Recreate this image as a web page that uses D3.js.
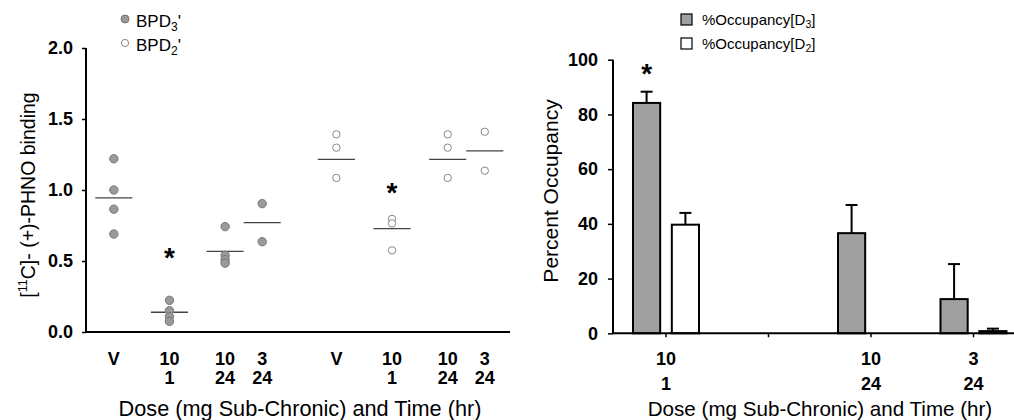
<!DOCTYPE html>
<html>
<head>
<meta charset="utf-8">
<script src="https://cdn.jsdelivr.net/npm/d3@7"></script>
<style>
  body { margin: 0; background: #fff; }
  svg { display: block; font-family: "Liberation Sans", Arial, sans-serif; }
</style>
</head>
<body>
<svg id="chart" width="1014" height="420"></svg>
<script>
// ---------- Left panel data ----------
const leftDose = ["V", "10", "10", "3", "V", "10", "10", "3"];
const leftTime = ["", "1", "24", "24", "", "1", "24", "24"];
const leftPositions = [1, 2.5, 4, 5, 7, 8.5, 10, 11];
const leftYTicks = [0, 0.5, 1.0, 1.5, 2.0];

// BPD3' values (groups 1-4), BPD2' values (groups 5-8)
const bpd3Values = [
  [1.22, 1.0, 0.865, 0.69],
  [0.223, 0.15, 0.108, 0.075],
  [0.742, 0.54, 0.51, 0.485],
  [0.904, 0.636]
];
const bpd3Means = [0.944, 0.139, 0.568, 0.77];
const bpd2Values = [
  [1.392, 1.298, 1.085],
  [0.796, 0.765, 0.575],
  [1.392, 1.298, 1.085],
  [1.41, 1.136]
];
const bpd2Means = [1.216, 0.728, 1.216, 1.275];
const leftStars = [{ pos: 2.5, value: 0.556 }, { pos: 8.5, value: 1.014 }];

// ---------- Right panel data ----------
const rightCats = ["10/1", "gap", "10/24", "3/24"];
const rightDose = ["10", "", "10", "3"];
const rightTime = ["1", "", "24", "24"];
const occD3 = [84.2, null, 36.6, 12.5];
const occD3Err = [4.1, null, 10.3, 12.8];
const occD2 = [39.7, null, 0, 0.8];
const occD2Err = [4.3, null, 0, 0.9];
const rightYTicks = [0, 20, 40, 60, 80, 100];

const svg = d3.select("#chart");

// ================= LEFT PANEL =================
const L = { x0: 86, x1: 510, y0: 332, y1: 48 };
const lx = d3.scaleLinear().domain([0.25, 11.68]).range([L.x0, L.x1]);
const ly = d3.scaleLinear().domain([0, 2]).range([L.y0, L.y1]);

const lg = svg.append("g");
const lyAxis = lg.append("g").attr("transform", `translate(${L.x0},0)`)
  .call(d3.axisLeft(ly).tickValues(leftYTicks).tickFormat(d3.format(".1f")).tickSize(4).tickPadding(9));
lyAxis.select(".domain").attr("stroke", "#000").attr("stroke-width", 2).attr("d", `M0,${L.y0}V${L.y1}`);
lyAxis.selectAll(".tick line").attr("stroke", "#000").attr("stroke-width", 1.5);
lyAxis.selectAll(".tick text").attr("font-size", 18).attr("font-weight", "bold").attr("fill", "#000")
  .attr("font-family", "Liberation Sans, Arial, sans-serif");
lg.append("line").attr("x1", L.x0 - 1).attr("x2", L.x1).attr("y1", L.y0).attr("y2", L.y0)
  .attr("stroke", "#000").attr("stroke-width", 2);

leftPositions.forEach((p, i) => {
  lg.append("text").attr("x", lx(p)).attr("y", 365).attr("text-anchor", "middle")
    .attr("font-size", 18).attr("font-weight", "bold").text(leftDose[i]);
  if (leftTime[i]) lg.append("text").attr("x", lx(p)).attr("y", 384).attr("text-anchor", "middle")
    .attr("font-size", 18).attr("font-weight", "bold").text(leftTime[i]);
});

lg.append("text").attr("x", 300).attr("y", 416).attr("text-anchor", "middle")
  .attr("font-size", 21.7).text("Dose (mg Sub-Chronic) and Time (hr)");

const lyt = lg.append("text").attr("transform", "translate(35,195) rotate(-90)")
  .attr("text-anchor", "middle").attr("font-size", 19.5);
lyt.append("tspan").text("[");
lyt.append("tspan").attr("font-size", 12.5).attr("dy", -8).text("11");
lyt.append("tspan").attr("dy", 8).text("C]- (+)-PHNO binding");

const meanHalf = 0.5;
function drawGroup(values, mean, pos, filled) {
  lg.append("line").attr("x1", lx(pos - meanHalf)).attr("x2", lx(pos + meanHalf))
    .attr("y1", ly(mean)).attr("y2", ly(mean)).attr("stroke", "#444").attr("stroke-width", 1.3);
  lg.selectAll(null).data(values).enter().append("circle")
    .attr("cx", lx(pos)).attr("cy", d => ly(d))
    .attr("r", filled ? 4.2 : 3.7)
    .attr("fill", filled ? "#9a9a9a" : "#fff")
    .attr("stroke", filled ? "#777" : "#888").attr("stroke-width", 1);
}
bpd3Values.forEach((v, i) => drawGroup(v, bpd3Means[i], leftPositions[i], true));
bpd2Values.forEach((v, i) => drawGroup(v, bpd2Means[i], leftPositions[i + 4], false));

leftStars.forEach(s => {
  lg.append("text").attr("x", lx(s.pos)).attr("y", ly(s.value) + 14).attr("text-anchor", "middle")
    .attr("font-size", 28).attr("font-weight", "bold").text("*");
});

lg.append("circle").attr("cx", 125).attr("cy", 19).attr("r", 4).attr("fill", "#9a9a9a").attr("stroke", "#777");
lg.append("circle").attr("cx", 125).attr("cy", 43).attr("r", 3.6).attr("fill", "#fff").attr("stroke", "#888");
function bpdLegend(y, sub) {
  const t = lg.append("text").attr("x", 136).attr("y", y).attr("font-size", 17);
  t.append("tspan").text("BPD");
  t.append("tspan").attr("font-size", 12).attr("dy", 4).text(sub);
  t.append("tspan").attr("dy", -4).text("'");
}
bpdLegend(27, "3");
bpdLegend(51, "2");

// ================= RIGHT PANEL =================
const R = { x0: 613, x1: 1014, y0: 333.3, y1: 59.7 };
const rx = d3.scalePoint().domain(rightCats).range([666, 973.5]);
const ry = d3.scaleLinear().domain([0, 100]).range([R.y0, R.y1]);
const inner = d3.scaleBand().domain(["D3", "D2"]).range([-33, 33]).paddingInner(0.3);

const rg = svg.append("g");
const ryAxis = rg.append("g").attr("transform", `translate(${R.x0},0)`)
  .call(d3.axisLeft(ry).tickValues(rightYTicks).tickSize(5).tickPadding(10));
ryAxis.select(".domain").attr("stroke", "#000").attr("stroke-width", 2).attr("d", `M0,${R.y0}V${R.y1}`);
ryAxis.selectAll(".tick line").attr("stroke", "#000").attr("stroke-width", 1.5);
ryAxis.selectAll(".tick text").attr("font-size", 18).attr("font-weight", "bold").attr("fill", "#000")
  .attr("font-family", "Liberation Sans, Arial, sans-serif");

const bars = [];
rightCats.forEach((c, i) => {
  if (occD3[i] !== null && occD3[i] > 0) bars.push({ c, k: "D3", v: occD3[i], e: occD3Err[i] });
  if (occD2[i] !== null && occD2[i] > 0) bars.push({ c, k: "D2", v: occD2[i], e: occD2Err[i] });
});
bars.forEach(b => {
  const cx = rx(b.c) + inner(b.k) + inner.bandwidth() / 2;
  rg.append("line").attr("x1", cx).attr("x2", cx).attr("y1", ry(b.v)).attr("y2", ry(b.v + b.e))
    .attr("stroke", "#000").attr("stroke-width", 2);
  rg.append("line").attr("x1", cx - 6).attr("x2", cx + 6).attr("y1", ry(b.v + b.e)).attr("y2", ry(b.v + b.e))
    .attr("stroke", "#000").attr("stroke-width", 2);
});
rg.selectAll("rect.bar").data(bars).enter().append("rect").attr("class", "bar")
  .attr("x", d => rx(d.c) + inner(d.k))
  .attr("width", inner.bandwidth())
  .attr("y", d => ry(d.v))
  .attr("height", d => ry(0) - ry(d.v))
  .attr("fill", d => d.k === "D3" ? "#a0a0a0" : "#fff")
  .attr("stroke", "#000").attr("stroke-width", 2);

rg.append("line").attr("x1", R.x0 - 1).attr("x2", R.x1).attr("y1", R.y0).attr("y2", R.y0)
  .attr("stroke", "#000").attr("stroke-width", 2);
rightCats.forEach((c, i) => {
  rg.append("line").attr("x1", rx(c)).attr("x2", rx(c)).attr("y1", R.y0).attr("y2", R.y0 + 4)
    .attr("stroke", "#000").attr("stroke-width", 1.5);
  if (rightDose[i]) rg.append("text").attr("x", rx(c)).attr("y", 365).attr("text-anchor", "middle")
    .attr("font-size", 18).attr("font-weight", "bold").text(rightDose[i]);
  if (rightTime[i]) rg.append("text").attr("x", rx(c)).attr("y", 390).attr("text-anchor", "middle")
    .attr("font-size", 18).attr("font-weight", "bold").text(rightTime[i]);
});
rg.append("text").attr("x", 820).attr("y", 416).attr("text-anchor", "middle")
  .attr("font-size", 20.6).text("Dose (mg Sub-Chronic) and Time (hr)");
rg.append("text").attr("transform", "translate(558,191) rotate(-90)").attr("text-anchor", "middle")
  .attr("font-size", 21).text("Percent Occupancy");

rg.append("text").attr("x", rx("10/1") + inner("D3") + inner.bandwidth() / 2).attr("y", 83)
  .attr("text-anchor", "middle").attr("font-size", 28).attr("font-weight", "bold").text("*");

function occLegend(y, fill, sub) {
  rg.append("rect").attr("x", 681).attr("y", y - 11).attr("width", 11).attr("height", 11)
    .attr("fill", fill).attr("stroke", "#000").attr("stroke-width", 1.2);
  const t = rg.append("text").attr("x", 702).attr("y", y).attr("font-size", 15);
  t.append("tspan").text("%Occupancy[D");
  t.append("tspan").attr("font-size", 10.5).attr("dy", 3).text(sub);
  t.append("tspan").attr("dy", -3).text("]");
}
occLegend(25, "#a0a0a0", "3");
occLegend(49, "#fff", "2");
</script>
</body>
</html>
